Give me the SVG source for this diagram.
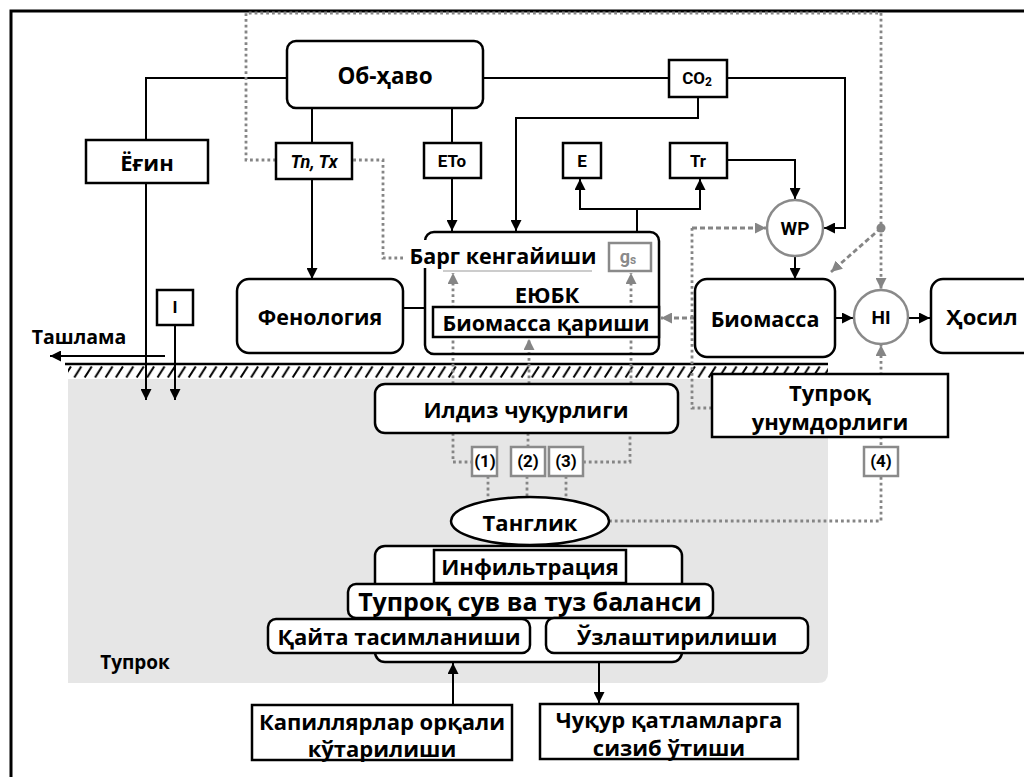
<svg xmlns="http://www.w3.org/2000/svg" width="1024" height="777" viewBox="0 0 1024 777">
<defs>
<style>
.box{fill:#fff;stroke:#000;stroke-width:2.5}
.gbox{fill:#fff;stroke:#8a8a8a;stroke-width:2.5}
.ln{fill:none;stroke:#000;stroke-width:2}
.dt{fill:none;stroke:#858585;stroke-width:2.8;stroke-dasharray:2.8 3}
.ds{fill:none;stroke:#858585;stroke-width:2.8;stroke-dasharray:5 3}
.t{font-family:"Open Sans","Noto Sans",sans-serif;font-weight:bold;text-anchor:middle;dominant-baseline:central;fill:#000}
.r{font-family:Roboto,"Open Sans",sans-serif}
.s21{font-size:21.5px}
.s16{font-size:17px}
.g{fill:#8a8a8a}
</style>
<marker id="ab" markerWidth="11" markerHeight="11" refX="10" refY="5" orient="auto" markerUnits="userSpaceOnUse" viewBox="0 0 10 10"><path d="M0,0 L10,5 L0,10 z" fill="#000"/></marker>
<marker id="ag" markerWidth="11" markerHeight="11" refX="10" refY="5" orient="auto" markerUnits="userSpaceOnUse" viewBox="0 0 10 10"><path d="M0,0 L10,5 L0,10 z" fill="#858585"/></marker>
<pattern id="hatch" x="0" y="366" width="10.4" height="12" patternUnits="userSpaceOnUse"><path d="M1.5,11.5 L8.5,0.5" stroke="#000" stroke-width="2"/></pattern>
</defs>
<rect width="1024" height="777" fill="#fff"/>
<path d="M11,777 V11 H1030" fill="none" stroke="#000" stroke-width="3"/>

<g id="soil">
<path d="M68,379 H828 V673 Q828,683 818,683 H68 Z" fill="#e6e6e6"/>
<line x1="65" y1="364" x2="828" y2="364" stroke="#000" stroke-width="2.5"/>
<rect x="68" y="366" width="760" height="12" fill="url(#hatch)"/>
<text class="t" x="135" y="662" style="font-size:19px">Тупрок</text>
</g>

<g id="connectors">
<path class="ln" d="M287,78 H146 V140"/>
<path class="ln" d="M146,183 V400" marker-end="url(#ab)"/>
<path class="ln" d="M175,325 V400" marker-end="url(#ab)"/>
<path class="ln" d="M165,356 H50" marker-end="url(#ab)"/>
<path class="ln" d="M312,108 V143"/>
<path class="ln" d="M312,179 V279" marker-end="url(#ab)"/>
<path class="ln" d="M452,108 V143"/>
<path class="ln" d="M452,178 V231" marker-end="url(#ab)"/>
<path class="ln" d="M483,78 H669"/>
<path class="ln" d="M727,78 H845 V228 H824" marker-end="url(#ab)"/>
<path class="ln" d="M698,97 V118 H516 V231" marker-end="url(#ab)"/>
<path class="ln" d="M637,232 V209 H580 V179" marker-end="url(#ab)"/>
<path class="ln" d="M637,209 H700 V179" marker-end="url(#ab)"/>
<path class="ln" d="M727,160 H795 V199" marker-end="url(#ab)"/>
<path class="ln" d="M795,256 V279" marker-end="url(#ab)"/>
<path class="ln" d="M403,308 H425"/>
<path class="ln" d="M835,318 H853" marker-end="url(#ab)"/>
<path class="ln" d="M909,318 H930" marker-end="url(#ab)"/>
<path class="ln" d="M453,705 V663" marker-end="url(#ab)"/>
<path class="ln" d="M599,662 V703" marker-end="url(#ab)"/>

<path class="dt" d="M403,258 H383 V160 H352"/>
<path class="dt" d="M276,160 H246 V13 H881 V289" marker-end="url(#ag)"/>
<circle cx="881" cy="228" r="4.5" fill="#858585"/>
<path class="ds" d="M881,228 L831,272" marker-end="url(#ag)"/>
<path class="dt" d="M712,408 H692 V228"/>
<path class="ds" d="M692,228 H766" marker-end="url(#ag)"/>
<path class="ds" d="M695,318 H661" marker-end="url(#ag)"/>
<path class="dt" d="M453,433 V462 H472"/>
<path class="dt" d="M583,462 H630 V433"/>
<path class="dt" d="M528,433 V447"/>
<path class="dt" d="M488,476 V500"/>
<path class="dt" d="M527,476 V497"/>
<path class="dt" d="M566,476 V500"/>
<path class="dt" d="M609,521 H881 V345" marker-end="url(#ag)"/>
<path class="dt" d="M453,384 V273" marker-end="url(#ag)"/>
<path class="dt" d="M529,384 V339" marker-end="url(#ag)"/>
<path class="dt" d="M631,384 V273" marker-end="url(#ag)"/>
</g>

<g id="obhavo"><rect class="box" x="287" y="41" width="196" height="67" rx="9"/><text class="t" x="385" y="75" style="font-size:22.5px">Об-ҳаво</text></g>
<g id="yogin"><rect class="box" x="86" y="140" width="122" height="43"/><text class="t" x="147" y="162" style="font-size:22px">Ёғин</text></g>
<g id="tntx"><rect class="box" x="276" y="143" width="76" height="36"/><text class="t r" x="314" y="161" style="font-size:18px;font-style:italic">Tn, Tx</text></g>
<g id="eto"><rect class="box" x="424" y="143" width="57" height="35"/><text class="t r s16" x="452" y="161">ETo</text></g>
<g id="co2"><rect class="box" x="669" y="60" width="58" height="37"/><text class="t r s16" x="697" y="78">CO<tspan font-size="12" dy="4">2</tspan></text></g>
<g id="e"><rect class="box" x="563" y="143" width="38" height="35"/><text class="t r s16" x="582" y="161">E</text></g>
<g id="tr"><rect class="box" x="670" y="143" width="57" height="35"/><text class="t r s16" x="698" y="161">Tr</text></g>
<g id="wp"><circle class="gbox" cx="795" cy="228" r="28"/><text class="t r" x="795" y="228" style="font-size:19px">WP</text></g>

<g id="eyubk">
<rect x="425" y="232" width="234" height="122" rx="9" fill="none" stroke="#000" stroke-width="2.5"/>
<rect x="410" y="240" width="188" height="28" fill="#fff"/>
<text class="t s21" x="503" y="255">Барг кенгайиши</text>
<line x1="443" y1="271" x2="592" y2="271" stroke="#bbb" stroke-width="1.5"/>
<rect class="gbox" x="609" y="243" width="42" height="28" stroke-width="2"/>
<text class="t r g" x="628" y="256" style="font-size:18px">g<tspan font-size="12" dy="4">s</tspan></text>
<text class="t" x="547" y="294" style="font-size:22px">ЕЮБК</text>
<rect class="box" x="433" y="307" width="226" height="30"/>
<text class="t s21" x="546" y="322">Биомасса қариши</text>
</g>

<g id="fenologiya"><rect class="box" x="237" y="279" width="166" height="74" rx="12"/><text class="t s21" x="320" y="316">Фенология</text></g>
<g id="biomassa"><rect class="box" x="695" y="279" width="140" height="78" rx="12"/><text class="t s21" x="765" y="318">Биомасса</text></g>
<g id="hi"><circle class="gbox" cx="881" cy="317" r="27"/><text class="t r" x="881" y="317" style="font-size:19px">HI</text></g>
<g id="hosil"><rect class="box" x="931" y="279" width="110" height="74" rx="12"/><text class="t" x="982" y="316" style="font-size:22px">Ҳосил</text></g>
<g id="irr"><rect class="box" x="157" y="290" width="36" height="35"/><text class="t r s16" x="175" y="307">I</text></g>
<g id="tashlama"><text class="t" x="79" y="336" style="font-size:19.5px">Ташлама</text></g>

<g id="ildiz"><rect class="box" x="375" y="384" width="303" height="49" rx="10"/><text class="t" x="526" y="409" style="font-size:22px">Илдиз чуқурлиги</text></g>
<g id="unum"><rect class="box" x="712" y="374" width="236" height="63"/><text class="t" x="830" y="392" style="font-size:22px">Тупроқ</text><text class="t" x="830" y="421" style="font-size:22px">унумдорлиги</text></g>
<g id="n1"><rect class="gbox" x="472" y="447" width="25" height="29"/><text class="t r s16" x="485" y="461">(1)</text></g>
<g id="n2"><rect class="gbox" x="511" y="447" width="34" height="29"/><text class="t r s16" x="528" y="461">(2)</text></g>
<g id="n3"><rect class="gbox" x="549" y="447" width="34" height="29"/><text class="t r s16" x="566" y="461">(3)</text></g>
<g id="n4"><rect class="gbox" x="864" y="447" width="34" height="29"/><text class="t r s16" x="881" y="461">(4)</text></g>
<g id="tanglik"><ellipse class="box" cx="530" cy="521" rx="79" ry="24"/><text class="t" x="530" y="522" style="font-size:22px">Танглик</text></g>

<g id="balance">
<rect class="box" x="375" y="546" width="307" height="116" rx="10"/>
<rect class="box" x="434" y="550" width="192" height="33"/>
<text class="t" x="530" y="566" style="font-size:22px">Инфильтрация</text>
<rect class="box" x="348" y="584" width="365" height="34" rx="8"/>
<text class="t" x="530" y="601" style="font-size:25px">Тупроқ сув ва туз баланси</text>
</g>
<g id="qayta"><rect class="box" x="268" y="619" width="262" height="34" rx="8"/><text class="t" x="399" y="636" style="font-size:22px">Қайта тасимланиши</text></g>
<g id="uzlash"><rect class="box" x="546" y="618" width="262" height="35" rx="8"/><text class="t" x="677" y="636" style="font-size:22px">Ўзлаштирилиши</text></g>
<g id="kapil"><rect class="box" x="252" y="705" width="260" height="55"/><text class="t" x="382" y="721" style="font-size:22px">Капиллярлар орқали</text><text class="t" x="382" y="748" style="font-size:22px">кўтарилиши</text></g>
<g id="chuqur"><rect class="box" x="540" y="704" width="258" height="55"/><text class="t" x="669" y="719" style="font-size:22px">Чуқур қатламларга</text><text class="t" x="669" y="747" style="font-size:22px">сизиб ўтиши</text></g>
</svg>
